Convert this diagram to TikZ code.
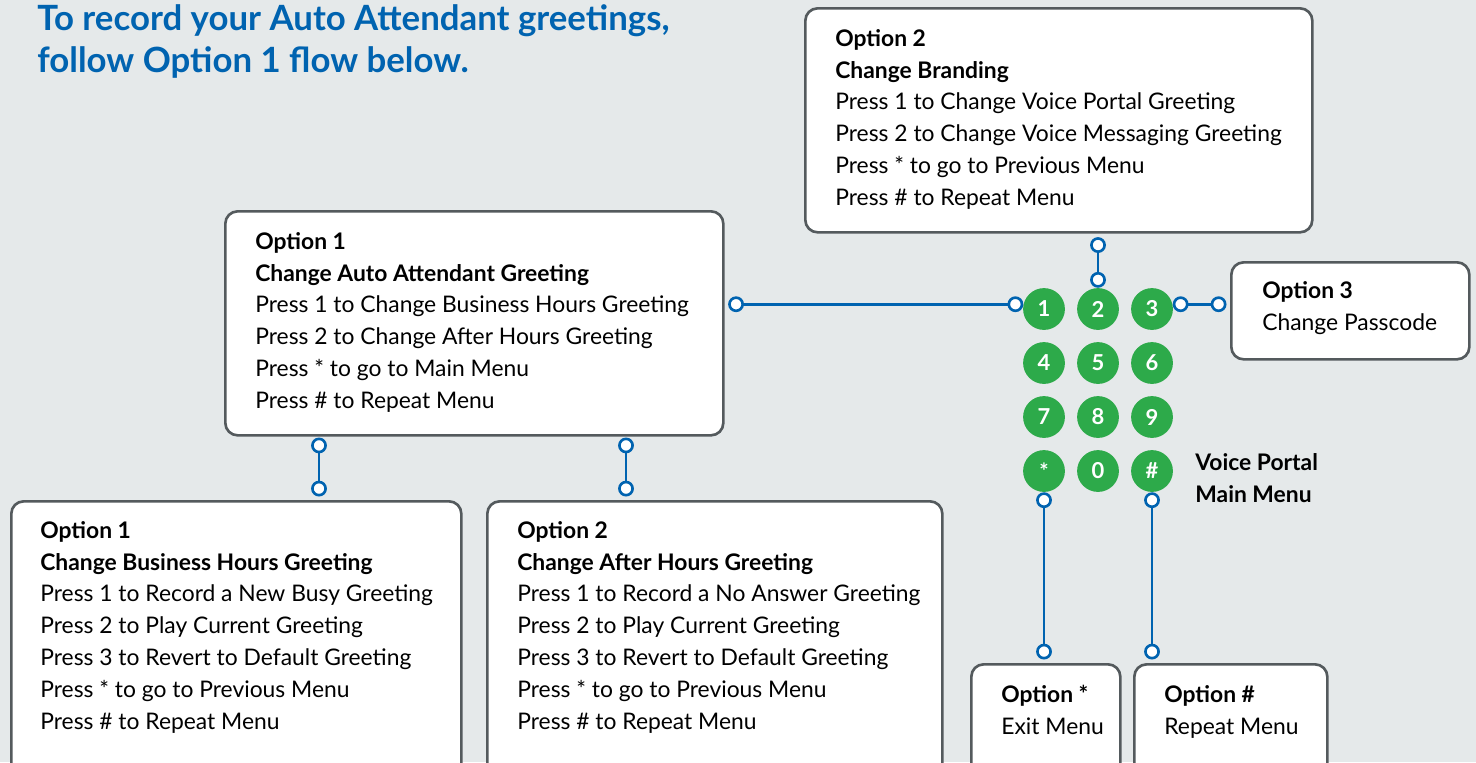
\documentclass[tikz,border=0pt]{standalone}
\usepackage{fontspec}
\setmainfont{Lato}
\usetikzlibrary{arrows.meta}

\definecolor{bgGrey}{HTML}{E5E9EA}
\definecolor{portalBlue}{HTML}{0063B0}
\definecolor{keyGreen}{HTML}{2DAA4A}
\definecolor{edgeGrey}{HTML}{545A5D}

\def\px{0.02cm}

\begin{document}
\begin{tikzpicture}[x=0.02cm, y=-0.02cm,
	box/.style={draw=edgeGrey, line width=1.5pt, rounded corners=7pt, fill=white, anchor=north west, inner sep=0pt},
	txt/.style={anchor=north west, align=left, inner sep=0pt, font=\fontsize{13}{18.1}\selectfont},
	key/.style={circle, fill=keyGreen, minimum size=23.8pt, inner sep=0pt, text=white, font=\fontsize{12.5}{13}\selectfont\bfseries},
	link/.style={draw=portalBlue, line width=1.5pt, {Circle[open,fill=white,length=9pt,width=9pt]}-{Circle[open,fill=white,length=9pt,width=9pt]}},
	]

	\useasboundingbox (0,0) rectangle (1476,762);
	\clip (0,0) rectangle (1476,762);
	\fill[bgGrey] (0,0) rectangle (1476,762);

	% TITULO
	\node[anchor=north west, inner sep=0pt, align=left, text=portalBlue, font=\fontsize{19.8}{23.8}\selectfont\bfseries] (title) at (37,4) {To record your Auto Attendant greetings,\\follow Option 1 flow below.};

	% CAIXAS
	\node[box, minimum width=507*\px, minimum height=224*\px] (brand) at (804,7) {};
	\node[box, minimum width=498*\px, minimum height=224*\px] (aagreet) at (224,210) {};
	\node[box, minimum width=238*\px, minimum height=97*\px] (pass) at (1230,261) {};
	\node[box, minimum width=450*\px, minimum height=300*\px] (busy) at (10,500) {};
	\node[box, minimum width=455*\px, minimum height=300*\px] (after) at (486,500) {};
	\node[box, minimum width=149*\px, minimum height=150*\px] (exitm) at (970,663) {};
	\node[box, minimum width=193*\px, minimum height=150*\px] (rept) at (1133,663) {};

	\node[txt] (brandtxt) at (835,29) {\textbf{Option 2}\\\textbf{Change Branding}\\Press 1 to Change Voice Portal Greeting\\Press 2 to Change Voice Messaging Greeting\\Press * to go to Previous Menu\\Press \# to Repeat Menu};
	\node[txt] (aagreettxt) at (255,232) {\textbf{Option 1}\\\textbf{Change Auto Attendant Greeting}\\Press 1 to Change Business Hours Greeting\\Press 2 to Change After Hours Greeting\\Press * to go to Main Menu\\Press \# to Repeat Menu};
	\node[txt] (passtxt) at (1262,281) {\textbf{Option 3}\\Change Passcode};
	\node[txt] (busytxt) at (40,521) {\textbf{Option 1}\\\textbf{Change Business Hours Greeting}\\Press 1 to Record a New Busy Greeting\\Press 2 to Play Current Greeting\\Press 3 to Revert to Default Greeting\\Press * to go to Previous Menu\\Press \# to Repeat Menu};
	\node[txt] (aftertxt) at (517,521) {\textbf{Option 2}\\\textbf{Change After Hours Greeting}\\Press 1 to Record a No Answer Greeting\\Press 2 to Play Current Greeting\\Press 3 to Revert to Default Greeting\\Press * to go to Previous Menu\\Press \# to Repeat Menu};
	\node[txt] (exitmtxt) at (1001,685) {\textbf{Option *}\\Exit Menu};
	\node[txt] (repttxt) at (1164,685) {\textbf{Option \#}\\Repeat Menu};

	% TECLADO
	\foreach \lab/\nm/\col/\row in {1/1/0/0, 2/2/1/0, 3/3/2/0, 4/4/0/1, 5/5/1/1, 6/6/2/1, 7/7/0/2, 8/8/1/2, 9/9/2/2, */star/0/3, 0/0/1/3, \#/hash/2/3}
		\node[key] (key\nm) at (1044+54*\col, 309+54*\row) {\lab};

	\node[txt, font=\fontsize{13}{18.1}\selectfont\bfseries] (portal) at (1195,453) {Voice Portal\\Main Menu};

	% LIGACOES
	\coordinate (dropA) at (319,434);
	\coordinate (dropB) at (626,434);

	\draw[link, shorten <=2pt] (aagreet.east |- key1.167) -- (key1.167);
	\draw[link, shorten <=2pt] (key2.north |- brand.south) -- (key2.north);
	\draw[link, shorten >=2pt] (key3.13) -- (key3.13 -| pass.west);
	\draw[link, shorten <=2pt, shorten >=2pt] (dropA) -- (dropA |- busy.north);
	\draw[link, shorten <=2pt, shorten >=2pt] (dropB) -- (dropB |- after.north);
	\draw[link, shorten >=2pt] (keystar.south) -- (keystar.south |- exitm.north);
	\draw[link, shorten >=2pt] (keyhash.south) -- (keyhash.south |- rept.north);

\end{tikzpicture}
\end{document}
